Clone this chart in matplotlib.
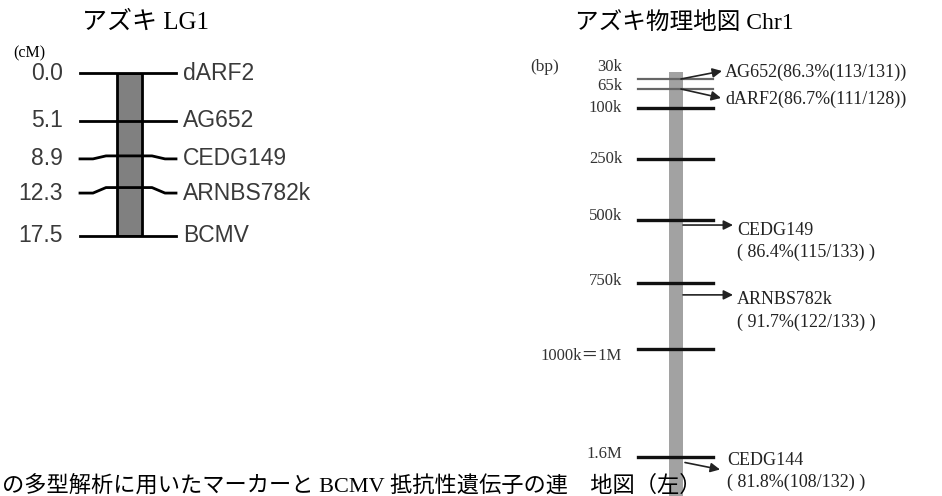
import numpy as np
import matplotlib
matplotlib.use('Agg')
import matplotlib.pyplot as plt
from matplotlib.patches import Rectangle

W, H = 942, 496
SERIF = ['Liberation Serif', 'Noto Sans CJK JP']

# linkage map, cM
lg_pos = [0.0, 5.1, 8.9, 12.3, 17.5]
lg_markers = ['dARF2', 'AG652', 'CEDG149', 'ARNBS782k', 'BCMV']

# physical map, kb
phys_ticks = [30, 65, 100, 250, 500, 750, 1000, 1600]
phys_tick_labels = ['30k', '65k', '100k', '250k', '500k', '750k', '1000k＝1M', '1.6M']
phys_markers = ['AG652', 'dARF2', 'CEDG149', 'ARNBS782k', 'CEDG144']
phys_marker_kb = [30, 65, 520, 795, 1635]
phys_match = ['86.3%(113/131)', '86.7%(111/128)', '86.4%(115/133)',
              '91.7%(122/133)', '81.8%(108/132)']

# the physical map is drawn as a schematic, not to scale
scale_kb = [0, 30, 65, 100, 250, 500, 750, 1000, 1600, 2000]
scale_px = [72, 79, 89, 108, 159, 220, 283, 349, 457, 520]

caption = 'の多型解析に用いたマーカーと BCMV 抵抗性遺伝子の連　地図（左）'

fig = plt.figure(figsize=(W / 100, H / 100), dpi=100)

# ---- left: linkage map ----
top, bot = 73, 236
axL = fig.add_axes([0, 1 - bot / H, 1, (bot - top) / H])
axL.set_xlim(0, W)
axL.set_ylim(max(lg_pos), 0)
axL.axis('off')
px_per_cm = (bot - top) / max(lg_pos)

axL.add_patch(Rectangle((117, 0), 25, max(lg_pos), fc='#808080', ec='black',
                        lw=2, zorder=1))
label_shift = [0, 0, 3, 5.5, 0]  # label rows pushed down a little (px)
for y, name, sh in zip(lg_pos, lg_markers, label_shift):
    yl = y + sh / px_per_cm
    if sh:
        xs = [80, 93, 106, 152, 165, 176]
        ys = [yl, yl, y, y, yl, yl]
    else:
        xs, ys = [80, 176], [y, y]
    axL.plot(xs, ys, color='black', lw=2, zorder=2, clip_on=False)
    axL.text(63, yl, f'{y:.1f}', ha='right', va='center', fontsize=16.5,
             family='Liberation Sans', color='#3a3a3a')
    axL.text(183, yl, name, ha='left', va='center', fontsize=16.5,
             family='Liberation Sans', color='#3a3a3a')

fig.text(145 / W, 1 - 23 / H, 'アズキ LG1', ha='center', va='center',
         fontsize=18, family=SERIF)
fig.text(29 / W, 1 - 53 / H, '(cM)', ha='center', va='center',
         fontsize=11.5, family=SERIF)

# ---- right: physical map ----
def fwd(kb):
    return np.interp(kb, scale_kb, scale_px)

def inv(px):
    return np.interp(px, scale_px, scale_kb)

axR = fig.add_axes([0, 0, 1, (H - 72) / H])
axR.set_yscale('function', functions=(fwd, inv))
axR.set_xlim(0, W)
axR.set_ylim(float(inv(H)), 0)
axR.axis('off')

axR.add_patch(Rectangle((669, 0), 14, scale_kb[-1], fc='#a2a2a2', ec='none',
                        zorder=1))
tick_color = ['#666666', '#666666'] + ['#111111'] * 6
tick_lw = [1.6, 1.6] + [2.4] * 6
tick_dy = [12, 3, 0, 0, 4, 2, -7, 3]  # label offset (px, up)
for kb, lab, c, lw, dy in zip(phys_ticks, phys_tick_labels, tick_color,
                              tick_lw, tick_dy):
    axR.plot([638, 713], [kb, kb], color=c, lw=lw, zorder=2)
    axR.annotate(lab, xy=(622, kb), xytext=(0, dy), textcoords='offset pixels',
                 ha='right', va='center', fontsize=12, family=SERIF,
                 color='#333333')

fig.text(545 / W, 1 - 67 / H, '(bp)', ha='center', va='center',
         fontsize=12.5, family=SERIF, color='#333333')
fig.text(684 / W, 1 - 23 / H, 'アズキ物理地図 Chr1', ha='center', va='center',
         fontsize=17, family=SERIF)

arrow_x0 = [681, 681, 683, 683, 685]
arrow_dx = [41, 40, 50, 50, 35]
arrow_dy = [8, -9, 0, 0, -7]
text_x = [725, 725, 737, 737, 727]
text_dy = [7, -10, -5, -5, 2]
for i, (name, kb, m) in enumerate(zip(phys_markers, phys_marker_kb, phys_match)):
    axR.annotate('', xy=(arrow_x0[i], kb),
                 xytext=(arrow_dx[i], arrow_dy[i]), textcoords='offset pixels',
                 arrowprops=dict(arrowstyle='<|-', color='#222222', lw=1.2,
                                 mutation_scale=14, shrinkA=0, shrinkB=0))
    x = text_x[i] - arrow_x0[i]
    if i < 2:
        axR.annotate(f'{name}({m})', xy=(arrow_x0[i], kb),
                     xytext=(x, text_dy[i]), textcoords='offset pixels',
                     ha='left', va='center', fontsize=13, family=SERIF,
                     color='#222222')
    else:
        axR.annotate(name, xy=(arrow_x0[i], kb),
                     xytext=(x, text_dy[i]), textcoords='offset pixels',
                     ha='left', va='center', fontsize=13, family=SERIF,
                     color='#222222')
        axR.annotate(f'( {m} )', xy=(arrow_x0[i], kb),
                     xytext=(x, text_dy[i] - 22), textcoords='offset pixels',
                     ha='left', va='center', fontsize=13, family=SERIF,
                     color='#222222')

fig.text(2 / W, 1 - 475 / H, caption, ha='left', va='top', fontsize=16,
         family=SERIF)

fig.savefig('out.png', dpi=100)
